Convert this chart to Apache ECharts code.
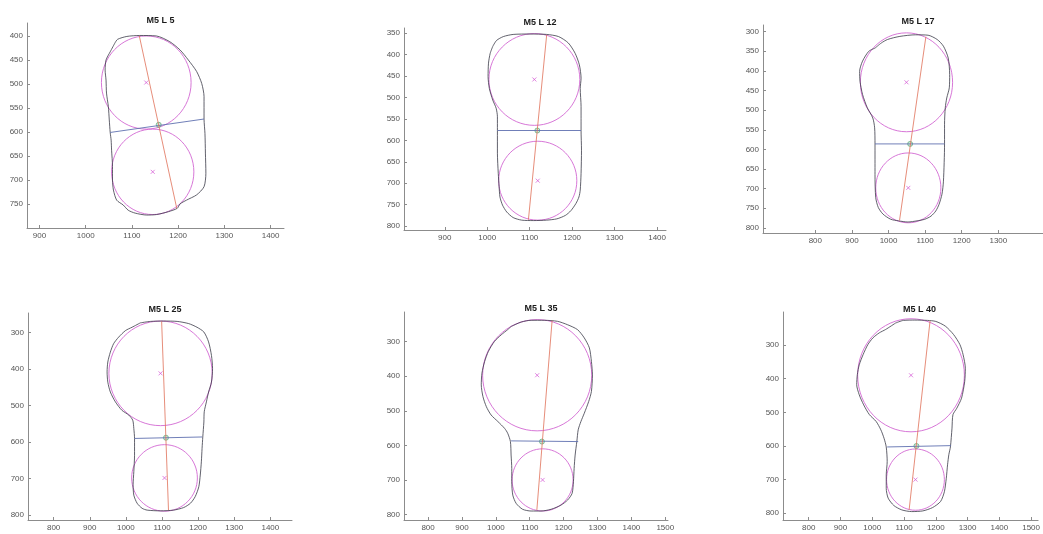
<!DOCTYPE html>
<html>
<head>
<meta charset="utf-8">
<script src="https://cdn.jsdelivr.net/npm/echarts@6/dist/echarts.min.js"></script>
<style>
html,body{margin:0;padding:0;background:#fff;}
#chart{width:1043px;height:534px;}
</style>
</head>
<body>
<div id="chart"></div>
<script>
// ---------- titles ----------
const titles = ['M5 L 5', 'M5 L 12', 'M5 L 17', 'M5 L 25', 'M5 L 35', 'M5 L 40'];

// ---------- axis limits & tick labels ----------
const xRange1 = [873, 1429], yRange1 = [373, 800];
const xRange2 = [804, 1421], yRange2 = [338, 809];
const xRange3 = [657, 1422], yRange3 = [283, 813];
const xRange4 = [729, 1460], yRange4 = [247, 813];
const xRange5 = [729, 1508], yRange5 = [214, 816];
const xRange6 = [719, 1522], yRange6 = [202, 820];

const xTicks1 = [900, 1000, 1100, 1200, 1300, 1400];
const yTicks1 = [400, 450, 500, 550, 600, 650, 700, 750];
const xTicks2 = [900, 1000, 1100, 1200, 1300, 1400];
const yTicks2 = [350, 400, 450, 500, 550, 600, 650, 700, 750, 800];
const xTicks3 = [800, 900, 1000, 1100, 1200, 1300];
const yTicks3 = [300, 350, 400, 450, 500, 550, 600, 650, 700, 750, 800];
const xTicks4 = [800, 900, 1000, 1100, 1200, 1300, 1400];
const yTicks4 = [300, 400, 500, 600, 700, 800];
const xTicks5 = [800, 900, 1000, 1100, 1200, 1300, 1400, 1500];
const yTicks5 = [300, 400, 500, 600, 700, 800];
const xTicks6 = [800, 900, 1000, 1100, 1200, 1300, 1400, 1500];
const yTicks6 = [300, 400, 500, 600, 700, 800];

// ---------- panel 1 : M5 L 5 ----------
const contour1 = [[1063,415],[1069,407],[1089,401],[1117,399],[1153,400],[1182,412],[1204,429],[1222,450],[1240,474],[1251,499],[1256,526],[1256,573],[1258,603],[1259,644],[1260,686],[1256,714],[1240,731],[1218,742],[1204,750],[1198,759],[1179,766],[1153,772],[1132,773],[1107,769],[1092,763],[1081,752],[1067,742],[1060,721],[1058,700],[1058,672],[1056,638],[1055,617],[1053,601],[1051,575],[1049,547],[1045,519],[1044,492],[1042,471],[1044,450],[1053,433],[1063,415]];
const circles1 = [[1131, 497, 97], [1145, 683, 89]];
const redLine1 = [[1116, 400], [1197, 759]];
const blueLine1 = [[1053, 601], [1256, 573]];
const neck1 = [1158, 585];

// ---------- panel 2 : M5 L 12 ----------
const contour2 = [[1013,381],[1022,367],[1038,358],[1061,353],[1101,352],[1140,353],[1168,358],[1191,373],[1207,397],[1217,424],[1221,455],[1219,479],[1221,521],[1221,577],[1222,623],[1221,677],[1219,716],[1216,732],[1209,747],[1197,764],[1184,775],[1164,783],[1140,786],[1109,787],[1081,786],[1061,780],[1046,767],[1036,751],[1030,732],[1028,708],[1026,677],[1024,630],[1024,577],[1024,545],[1021,525],[1013,506],[1005,479],[1002,451],[1003,420],[1007,397],[1013,381]];
const circles2 = [[1111, 458, 107], [1119, 694, 92]];
const redLine2 = [[1140, 354], [1097, 785]];
const blueLine2 = [[1024, 577], [1221, 577]];
const neck2 = [1118, 577];

// ---------- panel 3 : M5 L 17 ----------
const contour3 = [[963,342],[980,329],[997,320],[1031,312],[1074,308],[1108,309],[1133,320],[1150,337],[1163,367],[1167,409],[1166,443],[1159,469],[1155,494],[1153,536],[1153,586],[1150,681],[1146,714],[1138,740],[1129,757],[1116,770],[1099,778],[1078,782],[1053,785],[1027,782],[1006,778],[985,765],[972,748],[965,723],[963,664],[963,586],[962,545],[957,520],[942,494],[929,460],[922,426],[921,401],[929,375],[946,350],[963,342]];
const circles3 = [[1049, 429, 126], [1054, 698, 89]];
const redLine3 = [[1102, 313], [1030, 781]];
const blueLine3 = [[963, 586], [1153, 586]];
const neck3 = [1059, 586];

// ---------- panel 4 : M5 L 25 ----------
const contour4 = [[1040,274],[1068,270],[1105,269],[1142,270],[1174,276],[1197,286],[1216,299],[1229,326],[1237,363],[1240,399],[1237,436],[1229,463],[1223,490],[1217,517],[1216,545],[1213,586],[1211,617],[1209,654],[1206,690],[1202,722],[1192,749],[1179,767],[1160,779],[1132,786],[1096,788],[1059,786],[1045,781],[1031,767],[1022,745],[1020,717],[1022,681],[1024,636],[1024,590],[1022,563],[1019,540],[1008,526],[989,513],[971,490],[957,463],[950,436],[948,408],[950,381],[957,354],[966,331],[980,313],[999,295],[1017,286],[1040,274]];
const circles4 = [[1096, 412, 143], [1107, 698, 91]];
const redLine4 = [[1099, 270], [1118, 786]];
const blueLine4 = [[1024, 590], [1211, 586]];
const neck4 = [1111, 588];

// ---------- panel 5 : M5 L 35 ----------
const contour5 = [[1045,256],[1075,243],[1104,238],[1143,238],[1182,241],[1212,251],[1241,265],[1261,289],[1276,318],[1282,357],[1285,396],[1282,444],[1274,473],[1261,507],[1251,531],[1243,555],[1239,589],[1234,628],[1231,667],[1229,705],[1225,739],[1212,758],[1192,773],[1163,785],[1133,790],[1104,790],[1079,785],[1060,768],[1050,744],[1047,705],[1047,667],[1045,628],[1043,589],[1035,565],[1026,551],[1006,531],[986,512],[972,488],[962,459],[957,425],[959,391],[967,357],[978,328],[996,299],[1016,280],[1035,265],[1045,256]];
const circles5 = [[1122, 397, 161], [1138, 700, 90]];
const redLine5 = [[1166, 239], [1121, 787]];
const blueLine5 = [[1045, 587], [1243, 589]];
const neck5 = [1136, 589];

// ---------- panel 6 : M5 L 40 ----------
const contour6 = [[1073,235],[1098,227],[1134,226],[1174,227],[1200,230],[1230,244],[1256,269],[1276,299],[1286,329],[1293,369],[1291,408],[1281,458],[1266,488],[1254,507],[1251,547],[1246,603],[1241,626],[1237,656],[1233,696],[1227,736],[1215,765],[1190,783],[1159,793],[1124,795],[1093,790],[1068,777],[1050,755],[1044,726],[1044,686],[1047,646],[1044,603],[1037,577],[1027,552],[1012,527],[991,507],[973,478],[959,448],[951,418],[953,388],[959,359],[971,329],[986,299],[1002,279],[1022,264],[1042,254],[1073,235]];
const circles6 = [[1122, 390, 168], [1136, 700, 91]];
const redLine6 = [[1182, 228], [1116, 790]];
const blueLine6 = [[1047, 603], [1248, 599]];
const neck6 = [1139, 600];

// ---------- assemble ----------
const panels = [
  {x: xRange1, y: yRange1, xt: xTicks1, yt: yTicks1, contour: contour1, circles: circles1, red: redLine1, blue: blueLine1, neck: neck1},
  {x: xRange2, y: yRange2, xt: xTicks2, yt: yTicks2, contour: contour2, circles: circles2, red: redLine2, blue: blueLine2, neck: neck2},
  {x: xRange3, y: yRange3, xt: xTicks3, yt: yTicks3, contour: contour3, circles: circles3, red: redLine3, blue: blueLine3, neck: neck3},
  {x: xRange4, y: yRange4, xt: xTicks4, yt: yTicks4, contour: contour4, circles: circles4, red: redLine4, blue: blueLine4, neck: neck4},
  {x: xRange5, y: yRange5, xt: xTicks5, yt: yTicks5, contour: contour5, circles: circles5, red: redLine5, blue: blueLine5, neck: neck5},
  {x: xRange6, y: yRange6, xt: xTicks6, yt: yTicks6, contour: contour6, circles: circles6, red: redLine6, blue: blueLine6, neck: neck6}
];

// layout (pixels)
const gridBoxes = [
  {left: 27, top: 23, width: 257, height: 205},
  {left: 404, top: 28, width: 262, height: 202},
  {left: 763, top: 25, width: 300, height: 208},
  {left: 28, top: 313, width: 264, height: 207},
  {left: 404, top: 312, width: 264, height: 208},
  {left: 783, top: 312, width: 263, height: 208}
];
const titleTops = [11, 13, 12, 300, 299, 300];

const FONT = 'Liberation Sans, Arial, Helvetica, sans-serif';
const AXIS_COLOR = '#8c8c8c';
const LABEL_COLOR = '#555555';
const plain = v => String(v);

const option = {
  animation: false,
  backgroundColor: '#ffffff',
  title: [], grid: [], xAxis: [], yAxis: [], series: []
};

panels.forEach((p, i) => {
  const g = gridBoxes[i];
  option.grid.push({left: g.left, top: g.top, width: g.width, height: g.height, containLabel: false});
  option.title.push({
    text: titles[i], left: g.left + g.width / 2, top: titleTops[i], textAlign: 'center',
    textStyle: {fontFamily: FONT, fontSize: 9, fontWeight: 'bold', color: '#1a1a1a'}
  });
  option.xAxis.push({
    type: 'value', gridIndex: i, min: p.x[0], max: p.x[1],
    axisLine: {show: true, onZero: false, lineStyle: {color: AXIS_COLOR, width: 1}},
    axisTick: {show: true, inside: true, length: 3, customValues: p.xt, lineStyle: {color: AXIS_COLOR}},
    axisLabel: {customValues: p.xt, formatter: plain, fontFamily: FONT, fontSize: 8, color: LABEL_COLOR, margin: 4},
    splitLine: {show: false}
  });
  option.yAxis.push({
    type: 'value', gridIndex: i, min: p.y[0], max: p.y[1], inverse: true,
    axisLine: {show: true, onZero: false, lineStyle: {color: AXIS_COLOR, width: 1}},
    axisTick: {show: true, inside: true, length: 3, customValues: p.yt, lineStyle: {color: AXIS_COLOR}},
    axisLabel: {customValues: p.yt, formatter: plain, fontFamily: FONT, fontSize: 8, color: LABEL_COLOR, margin: 4},
    splitLine: {show: false}
  });
  // contour
  option.series.push({
    type: 'line', xAxisIndex: i, yAxisIndex: i, data: p.contour, showSymbol: false, smooth: 0.25,
    lineStyle: {color: '#3a3a48', width: 0.8}, silent: true
  });
  // fitted circles
  option.series.push({
    type: 'custom', xAxisIndex: i, yAxisIndex: i, data: p.circles, silent: true,
    encode: {x: 0, y: 1},
    renderItem: function (params, api) {
      const c = api.coord([api.value(0), api.value(1)]);
      const s = api.size([api.value(2) * 2, api.value(2) * 2]);
      return {
        type: 'ellipse',
        shape: {cx: c[0], cy: c[1], rx: s[0] / 2, ry: s[1] / 2},
        style: {fill: 'none', stroke: '#d268d2', lineWidth: 0.9}
      };
    }
  });
  // blue width line
  option.series.push({
    type: 'line', xAxisIndex: i, yAxisIndex: i, data: p.blue, showSymbol: false,
    lineStyle: {color: '#6070b0', width: 0.9}, silent: true
  });
  // red axis line
  option.series.push({
    type: 'line', xAxisIndex: i, yAxisIndex: i, data: p.red, showSymbol: false,
    lineStyle: {color: '#e07058', width: 0.8}, silent: true
  });
  // circle centres
  option.series.push({
    type: 'scatter', xAxisIndex: i, yAxisIndex: i,
    data: p.circles.map(c => [c[0], c[1]]),
    symbol: 'path://M0,0L10,10M10,0L0,10', symbolSize: 4,
    itemStyle: {color: 'none', borderColor: '#d455d4', borderWidth: 0.9}, silent: true
  });
  // neck marker
  option.series.push({
    type: 'scatter', xAxisIndex: i, yAxisIndex: i, data: [p.neck],
    symbol: 'circle', symbolSize: 5,
    itemStyle: {color: 'rgba(120,200,150,0.45)', borderColor: '#5aa878', borderWidth: 0.9}, silent: true
  });
});

const chart = echarts.init(document.getElementById('chart'), null, {renderer: 'canvas'});
chart.setOption(option);
</script>
</body>
</html>
